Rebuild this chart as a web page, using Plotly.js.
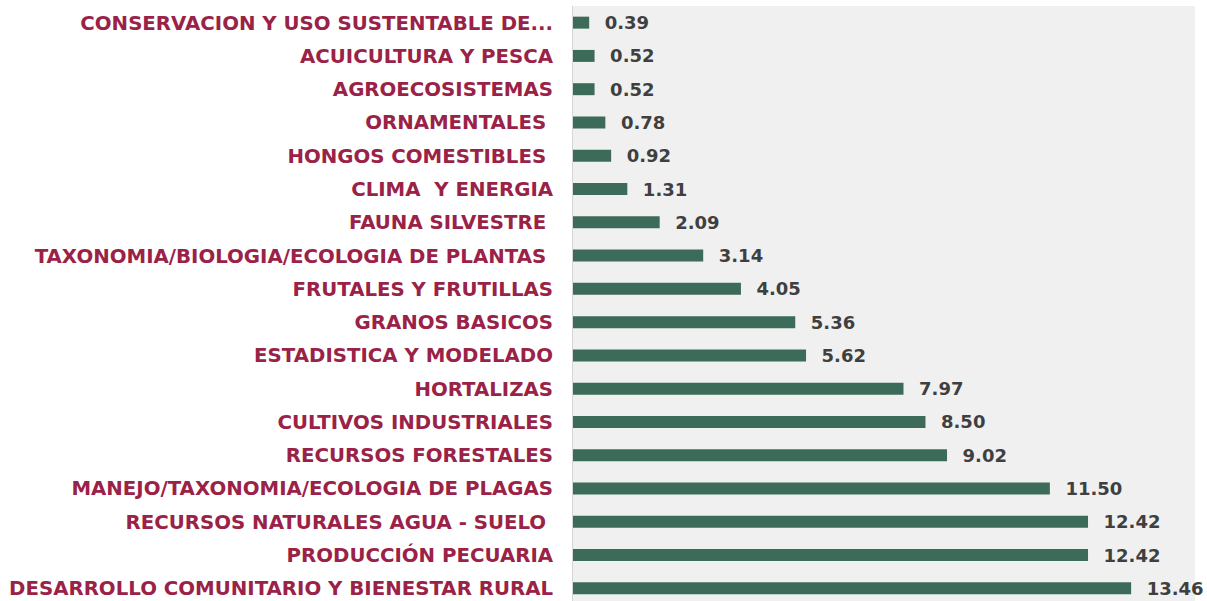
<!DOCTYPE html>
<html>
<head>
<meta charset="utf-8">
<script src="https://cdn.plot.ly/plotly-3.0.1.min.js"></script>
<style>html,body{margin:0;padding:0;background:#fff;overflow:hidden;}#chart{width:1207px;height:605px;}</style>
</head>
<body>
<div id="chart"></div>
<script>
const categories = [
  "CONSERVACION Y USO SUSTENTABLE DE...",
  "ACUICULTURA Y PESCA",
  "AGROECOSISTEMAS",
  "ORNAMENTALES\u00a0",
  "HONGOS COMESTIBLES\u00a0",
  "CLIMA\u00a0 Y ENERGIA",
  "FAUNA SILVESTRE\u00a0",
  "TAXONOMIA/BIOLOGIA/ECOLOGIA DE PLANTAS\u00a0",
  "FRUTALES Y FRUTILLAS",
  "GRANOS BASICOS",
  "ESTADISTICA Y MODELADO",
  "HORTALIZAS",
  "CULTIVOS INDUSTRIALES",
  "RECURSOS FORESTALES",
  "MANEJO/TAXONOMIA/ECOLOGIA DE PLAGAS",
  "RECURSOS NATURALES AGUA - SUELO\u00a0",
  "PRODUCCIÓN PECUARIA",
  "DESARROLLO COMUNITARIO Y BIENESTAR RURAL"
];
const values = [0.39, 0.52, 0.52, 0.78, 0.92, 1.31, 2.09, 3.14, 4.05, 5.36, 5.62, 7.97, 8.50, 9.02, 11.50, 12.42, 12.42, 13.46];

const trace = {
  type: "bar",
  orientation: "h",
  x: values,
  y: categories,
  marker: {color: "#3d6b59"},
  texttemplate: "\u00a0\u00a0%{x:.2f}",
  textposition: "outside",
  constraintext: "none",
  cliponaxis: false,
  textfont: {family: "DejaVu Sans, sans-serif", size: 18, weight: 700, color: "#3f3f3f"},
  hoverinfo: "none"
};

const layout = {
  width: 1207,
  height: 605,
  margin: {l: 573, r: 12, t: 6, b: 0, pad: 0},
  paper_bgcolor: "#ffffff",
  plot_bgcolor: "#f0f0f0",
  showlegend: false,
  bargap: 0.64,
  xaxis: {range: [0, 15], visible: false, showgrid: false, zeroline: false, fixedrange: true},
  yaxis: {
    autorange: "reversed",
    showline: true,
    linecolor: "#d6d6d6",
    linewidth: 1,
    showgrid: false,
    zeroline: false,
    ticks: "",
    ticklabelstandoff: 15,
    tickfont: {family: "DejaVu Sans, sans-serif", size: 19.75, weight: 700, color: "#9b2247"},
    fixedrange: true
  }
};

Plotly.newPlot("chart", [trace], layout, {displayModeBar: false, staticPlot: true});
</script>
</body>
</html>
